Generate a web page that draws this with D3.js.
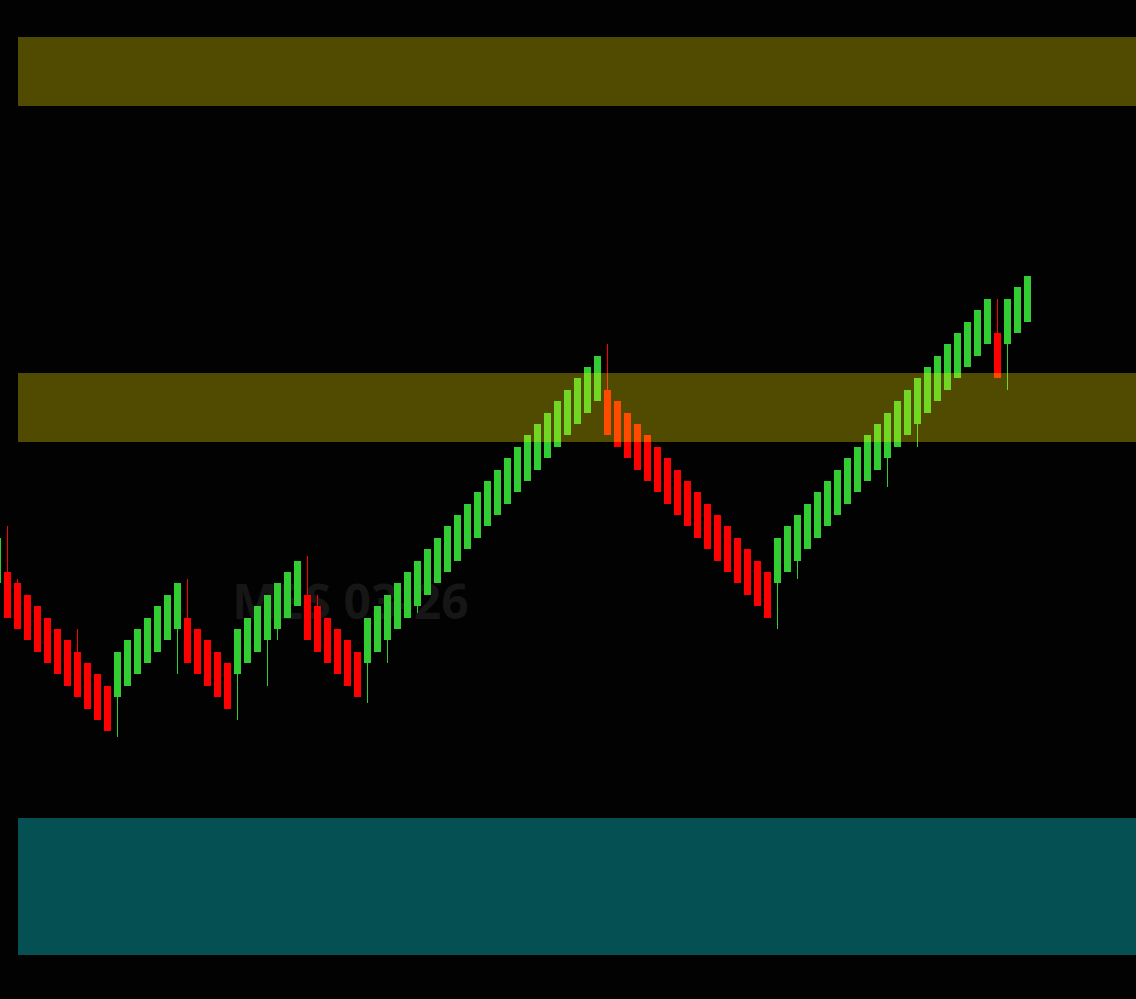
<!DOCTYPE html>
<html>
<head>
<meta charset="utf-8">
<script src="https://cdn.jsdelivr.net/npm/d3@7"></script>
<style>
  html, body { margin: 0; padding: 0; background: #020202; overflow: hidden; }
  svg { display: block; }
</style>
</head>
<body>
<div id="chart"></div>
<script>
// ---- Data (price offsets in points; one entry per bar, left to right) ----
const symbol = "MES 03-26";

const opens = [
  -1,
  0, -1, -2, -3, -4, -5, -6, -7, -8, -9, -10,
  -11, -10, -9, -8, -7, -6, -5,
  -4, -5, -6, -7, -8,
  -9, -8, -7, -6, -5, -4, -3,
  -2, -3, -4, -5, -6, -7,
  -8, -7, -6, -5, -4, -3, -2, -1, 0, 1, 2, 3, 4, 5, 6, 7, 8, 9, 10, 11, 12, 13, 14, 15,
  16, 15, 14, 13, 12, 11, 10, 9, 8, 7, 6, 5, 4, 3, 2, 1, 0,
  -1, 0, 1, 2, 3, 4, 5, 6, 7, 8, 9, 10, 11, 12, 13, 14, 15, 16, 17, 18, 19, 20,
  21,
  20, 21, 22
];

const closes = [
  3,
  -4, -5, -6, -7, -8, -9, -10, -11, -12, -13, -14,
  -7, -6, -5, -4, -3, -2, -1,
  -8, -9, -10, -11, -12,
  -5, -4, -3, -2, -1, 0, 1,
  -6, -7, -8, -9, -10, -11,
  -4, -3, -2, -1, 0, 1, 2, 3, 4, 5, 6, 7, 8, 9, 10, 11, 12, 13, 14, 15, 16, 17, 18, 19,
  12, 11, 10, 9, 8, 7, 6, 5, 4, 3, 2, 1, 0, -1, -2, -3, -4,
  3, 4, 5, 6, 7, 8, 9, 10, 11, 12, 13, 14, 15, 16, 17, 18, 19, 20, 21, 22, 23, 24,
  17,
  24, 25, 26
];

const highs = [
  3,
  4, -0.6, -2, -3, -4, -5, -6, -5, -8, -9, -10,
  -7, -6, -5, -4, -3, -2, -1,
  -0.6, -5, -6, -7, -8,
  -5, -4, -3, -2, -1, 0, 1,
  1.4, -2, -4, -5, -6, -7,
  -4, -3, -2, -1, 0, 1, 2, 3, 4, 5, 6, 7, 8, 9, 10, 11, 12, 13, 14, 15, 16, 17, 18, 19,
  20, 15, 14, 13, 12, 11, 10, 9, 8, 7, 6, 5, 4, 3, 2, 1, 0,
  3, 4, 5, 6, 7, 8, 9, 10, 11, 12, 13, 14, 15, 16, 17, 18, 19, 20, 21, 22, 23, 24,
  24,
  24, 25, 26
];

const lows = [
  -1,
  -4, -5, -6, -7, -8, -9, -10, -11, -12, -13, -14,
  -14.5, -10, -9, -8, -7, -6, -9,
  -8, -9, -10, -11, -12,
  -13, -8, -7, -10, -6, -4, -3,
  -6, -7, -8, -9, -10, -11,
  -11.5, -7, -8, -5, -4, -3.6, -2, -1, 0, 1, 2, 3, 4, 5, 6, 7, 8, 9, 10, 11, 12, 13, 14, 15,
  12, 11, 10, 9, 8, 7, 6, 5, 4, 3, 2, 1, 0, -1, -2, -3, -4,
  -5, 0, -0.6, 2, 3, 4, 5, 6, 7, 8, 9, 7.5, 11, 12, 11, 14, 15, 16, 17, 18, 19, 20,
  17,
  16, 21, 22
];

// Horizontal zones (price ranges)
const zoneNames = ["upper", "middle", "lower"];
const zoneLow  = [40.95, 11.45, -33.6];
const zoneHigh = [47, 17.5, -21.6];
const zoneColors = ["rgba(255,238,0,0.31)", "rgba(255,238,0,0.31)", "#045052"];

// ---- Layout ----
const W = 1136, H = 999;
const svg = d3.select("#chart").append("svg")
  .attr("width", W).attr("height", H)
  .attr("shape-rendering", "crispEdges");

svg.append("rect").attr("width", W).attr("height", H).attr("fill", "#020202");

const bars = opens.map((o, i) => ({ i, o, c: closes[i], h: highs[i], l: lows[i] }));

const x = d3.scaleLinear().domain([0, bars.length - 1]).range([-2.5, 1027.5]);
const y = d3.scaleLinear().domain([0, 26]).range([572, 276]);

const barW = 7;
const up = "#32cd32", down = "#ff0000";

// watermark
svg.append("text")
  .attr("x", 350.5).attr("y", 619)
  .attr("text-anchor", "middle")
  .attr("font-family", "'Noto Sans', 'Open Sans', sans-serif")
  .attr("font-weight", "bold")
  .attr("font-size", 48)
  .attr("fill", "#161616")
  .text(symbol);

// wicks
svg.append("g").selectAll("rect").data(bars).join("rect")
  .attr("x", d => x(d.i) - 0.5)
  .attr("width", 1)
  .attr("y", d => y(d.h))
  .attr("height", d => y(d.l) - y(d.h))
  .attr("fill", d => d.c >= d.o ? up : down);

// bodies
svg.append("g").selectAll("rect").data(bars).join("rect")
  .attr("x", d => x(d.i) - barW / 2)
  .attr("width", barW)
  .attr("y", d => y(Math.max(d.o, d.c)))
  .attr("height", d => y(Math.min(d.o, d.c)) - y(Math.max(d.o, d.c)))
  .attr("fill", d => d.c >= d.o ? up : down);

// zones drawn over the bars
svg.append("g").selectAll("rect").data(zoneNames).join("rect")
  .attr("x", 18)
  .attr("width", W - 18)
  .attr("y", (d, i) => y(zoneHigh[i]))
  .attr("height", (d, i) => y(zoneLow[i]) - y(zoneHigh[i]))
  .attr("fill", (d, i) => zoneColors[i]);
</script>
</body>
</html>
